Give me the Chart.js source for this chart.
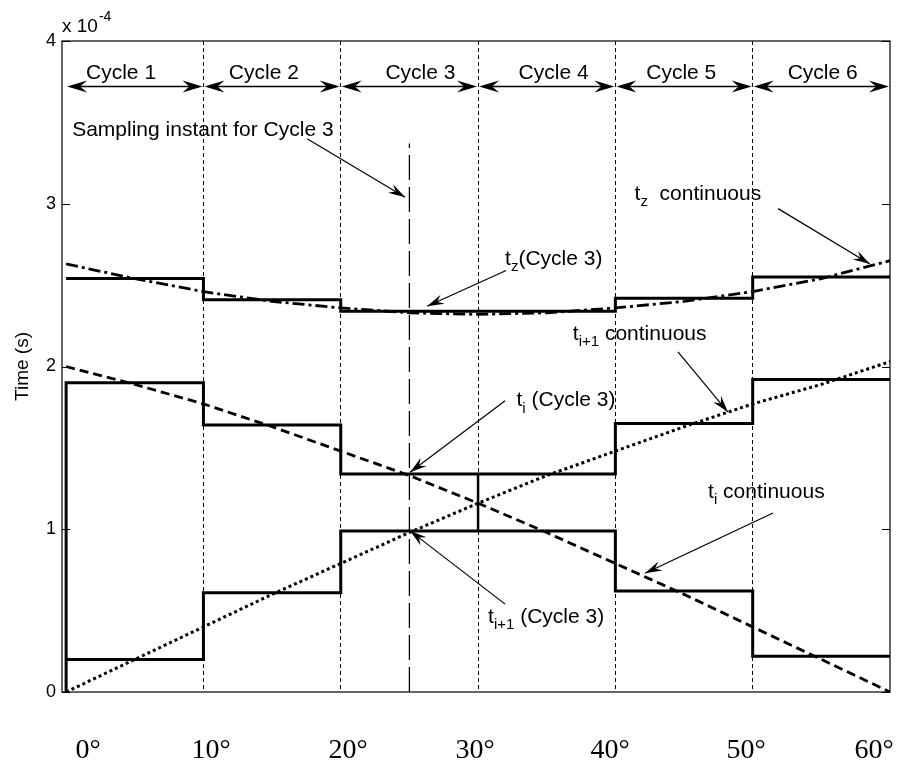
<!DOCTYPE html>
<html>
<head>
<meta charset="utf-8">
<script src="https://cdn.jsdelivr.net/npm/chart.js@4/dist/chart.umd.min.js"></script>
<style>
  html, body { margin: 0; padding: 0; background: #fff; }
  canvas { display: block; }
</style>
</head>
<body>
<canvas id="chart" width="898" height="764"></canvas>
<script>
( function () {
    'use strict';

    // angle (deg) and times (x 1e-4 s)
    var angles      = [ 0, 5, 10, 15, 20, 25, 30, 35, 40, 45, 50, 55, 60 ];
    var tzCont      = [ 2.63, 2.54, 2.46, 2.40, 2.36, 2.33, 2.32, 2.33, 2.36, 2.40, 2.46, 2.54, 2.65 ];
    var tiCont      = [ 2.00, 1.89, 1.77, 1.63, 1.48, 1.33, 1.16, 0.98, 0.79, 0.60, 0.40, 0.20, 0.00 ];
    var ti1Cont     = [ 0.00, 0.20, 0.40, 0.60, 0.79, 0.98, 1.16, 1.33, 1.48, 1.63, 1.77, 1.89, 2.03 ];

    var cycleEdges  = [ 0, 10, 20, 30, 40, 50, 60 ];
    var cycleNames  = [ 'Cycle 1', 'Cycle 2', 'Cycle 3', 'Cycle 4', 'Cycle 5', 'Cycle 6' ];
    var tzStep      = [ 2.54, 2.41, 2.34, 2.34, 2.42, 2.55 ];
    var upperStep   = [ 1.90, 1.64, 1.34, 1.34, 1.65, 1.92 ];
    var lowerStep   = [ 0.20, 0.61, 0.99, 0.99, 0.62, 0.22 ];

    var sampleAngle = 25;
    var sampleTop   = 3.37;

    var xTicks      = [ 0, 10, 20, 30, 40, 50, 60 ];
    var xTickLabels = [ '0°', '10°', '20°', '30°', '40°', '50°', '60°' ];
    var yTicks      = [ 0, 1, 2, 3, 4 ];

    // the degree labels sit a little off their grid lines in the original
    var xLabelAt    = [ 1.6, 10.55, 20.53, 29.78, 39.61, 49.52, 58.84 ];

    var SANS  = 'Arial, "Liberation Sans", Helvetica, sans-serif';
    var SERIF = '"Times New Roman", "Liberation Serif", serif';

    function pts( xs, ys ) {
        return xs.map( function ( x, i ) { return { x: x, y: ys[ i ] }; } );
    }

    function stairs( values, fromZero ) {
        var out = fromZero ? [ { x: cycleEdges[ 0 ], y: 0 } ] : [];
        values.forEach( function ( v, i ) {
            out.push( { x: cycleEdges[ i ], y: v } );
            out.push( { x: cycleEdges[ i + 1 ], y: v } );
        } );
        return out;
    }

    var base = {
        borderColor: '#000',
        pointRadius: 0,
        fill:        false,
        tension:     0,
    };

    // annotation texts (data units)
    var labels = [
        { x: 0.44,  y: 3.45, parts: [ [ 'Sampling instant for Cycle 3' ] ] },
        { x: 41.4,  y: 3.06, parts: [ [ 't' ], [ 'z', 1 ], [ '  continuous' ] ] },
        { x: 31.97, y: 2.66, parts: [ [ 't' ], [ 'z', 1 ], [ '(Cycle 3)' ] ] },
        { x: 36.9,  y: 2.20, parts: [ [ 't' ], [ 'i+1', 1 ], [ ' continuous' ] ] },
        { x: 32.8,  y: 1.79, parts: [ [ 't' ], [ 'i', 1 ], [ ' (Cycle 3)' ] ] },
        { x: 46.75, y: 1.23, parts: [ [ 't' ], [ 'i', 1 ], [ ' continuous' ] ] },
        { x: 30.73, y: 0.46, parts: [ [ 't' ], [ 'i+1', 1 ], [ ' (Cycle 3)' ] ] },
    ];

    // arrows: from -> tip (data units)
    var arrows = [
        [ 17.55, 3.40, 24.69, 3.04 ],
        [ 51.85, 2.97, 58.54, 2.63 ],
        [ 32.04, 2.59, 26.29, 2.37 ],
        [ 44.56, 2.09, 48.20, 1.72 ],
        [ 31.97, 1.79, 25.05, 1.35 ],
        [ 51.48, 1.10, 42.16, 0.73 ],
        [ 31.97, 0.54, 25.05, 0.99 ],
    ];

    var cycleLabelX = [ 4.0, 14.4, 25.8, 35.5, 44.8, 55.1 ];
    var cycleArrowY = 3.72;
    var cycleLabelY = 3.80;

    function head( ctx, fx, fy, tx, ty, len, half ) {
        var a = Math.atan2( ty - fy, tx - fx );
        var c = Math.cos( a ), s = Math.sin( a );
        var bx = tx - len * c, by = ty - len * s;
        var nx = tx - len * 0.65 * c, ny = ty - len * 0.65 * s;
        ctx.beginPath();
        ctx.moveTo( tx, ty );
        ctx.lineTo( bx - half * s, by + half * c );
        ctx.lineTo( nx, ny );
        ctx.lineTo( bx + half * s, by - half * c );
        ctx.closePath();
        ctx.fill();
    }

    function richText( ctx, x, y, parts ) {
        parts.forEach( function ( p ) {
            var sub = p[ 1 ];
            ctx.font = ( sub ? 15 : 21 ) + 'px ' + SANS;
            ctx.fillText( p[ 0 ], x, sub ? y + 8 : y );
            x += ctx.measureText( p[ 0 ] ).width;
        } );
    }

    var decor = {
        id: 'decor',
        beforeDraw: function ( chart ) {
            var ctx = chart.ctx;
            ctx.save();
            ctx.fillStyle = '#fff';
            ctx.fillRect( 0, 0, chart.width, chart.height );
            ctx.restore();
        },
        afterDraw: function ( chart ) {
            var ctx = chart.ctx, a = chart.chartArea;
            var xs = chart.scales.x, ys = chart.scales.y;
            var px = function ( v ) { return xs.getPixelForValue( v ); };
            var py = function ( v ) { return ys.getPixelForValue( v ); };

            ctx.save();
            ctx.strokeStyle = '#000';
            ctx.fillStyle = '#000';

            // box + inward ticks
            ctx.lineWidth = 1.2;
            ctx.strokeRect( a.left, a.top, a.right - a.left, a.bottom - a.top );
            ctx.lineWidth = 1;
            yTicks.forEach( function ( v ) {
                var y = Math.round( py( v ) ) + 0.5;
                ctx.beginPath();
                ctx.moveTo( a.left, y );  ctx.lineTo( a.left + 8, y );
                ctx.moveTo( a.right, y ); ctx.lineTo( a.right - 8, y );
                ctx.stroke();
            } );

            // exponent
            ctx.textBaseline = 'alphabetic';
            ctx.textAlign = 'left';
            ctx.font = '19px ' + SANS;
            ctx.fillText( 'x 10', a.left, 32 );
            var w = ctx.measureText( 'x 10' ).width;
            ctx.font = '14px ' + SANS;
            ctx.fillText( '-4', a.left + w + 1, 21 );

            // degree labels under the axis
            ctx.font = '28px ' + SERIF;
            ctx.textAlign = 'center';
            ctx.textBaseline = 'middle';
            xTickLabels.forEach( function ( t, i ) {
                ctx.fillText( t, px( xLabelAt[ i ] ), a.bottom + 59 );
            } );

            // cycle arrows
            ctx.lineWidth = 1.5;
            for ( var i = 0; i < cycleNames.length; i++ ) {
                var x1 = px( cycleEdges[ i ] ) + 1, x2 = px( cycleEdges[ i + 1 ] ) - 1, y = py( cycleArrowY );
                ctx.beginPath();
                ctx.moveTo( x1 + 10, y ); ctx.lineTo( x2 - 10, y );
                ctx.stroke();
                head( ctx, x2, y, x1, y, 20, 6 );
                head( ctx, x1, y, x2, y, 20, 6 );
                ctx.font = '21px ' + SANS;
                ctx.textAlign = 'center';
                ctx.textBaseline = 'middle';
                ctx.fillText( cycleNames[ i ], px( cycleLabelX[ i ] ), py( cycleLabelY ) );
            }

            // annotation arrows
            ctx.lineWidth = 1.2;
            arrows.forEach( function ( r ) {
                var fx = px( r[ 0 ] ), fy = py( r[ 1 ] ), tx = px( r[ 2 ] ), ty = py( r[ 3 ] );
                ctx.beginPath();
                ctx.moveTo( fx, fy ); ctx.lineTo( tx, ty );
                ctx.stroke();
                head( ctx, fx, fy, tx, ty, 17, 5 );
            } );

            // annotation text
            ctx.textAlign = 'left';
            ctx.textBaseline = 'middle';
            labels.forEach( function ( l ) {
                richText( ctx, px( l.x ), py( l.y ), l.parts );
            } );

            ctx.restore();
        },
    };

    new Chart( document.getElementById( 'chart' ), {
        type: 'line',
        data: {
            datasets: [
                { ...base, data: pts( angles, tzCont ),  borderWidth: 2.8, borderDash: [ 12, 4, 3, 4 ] },
                { ...base, data: pts( angles, tiCont ),  borderWidth: 2.8, borderDash: [ 9, 5 ] },
                { ...base, data: pts( angles, ti1Cont ), borderWidth: 3,   borderDash: [ 3, 3 ] },
                { ...base, data: stairs( tzStep, false ),    borderWidth: 3 },
                { ...base, data: stairs( upperStep, true ),  borderWidth: 3 },
                { ...base, data: stairs( lowerStep, false ), borderWidth: 3 },
                { ...base, data: [ { x: cycleEdges[ 3 ], y: lowerStep[ 2 ] }, { x: cycleEdges[ 3 ], y: upperStep[ 2 ] } ], borderWidth: 2.5 },
                { ...base, data: [ { x: sampleAngle, y: 0 }, { x: sampleAngle, y: sampleTop } ], borderWidth: 1.3, borderDash: [ 25, 7 ] },
            ],
        },
        options: {
            responsive: false,
            animation:  false,
            layout: { padding: { left: 0, right: 8, top: 41, bottom: 0 } },
            plugins: {
                legend:  { display: false },
                tooltip: { enabled: false },
            },
            scales: {
                x: {
                    type: 'linear',
                    min:  -0.3,
                    max:  60,
                    afterFit: function ( s ) {
                        s.height = 72;
                        s.paddingLeft = 0;
                        s.paddingRight = 0;
                    },
                    afterBuildTicks: function ( s ) { s.ticks = xTicks.map( function ( v ) { return { value: v }; } ); },
                    ticks: { display: false },
                    grid: {
                        drawTicks: false,
                        lineWidth: 1,
                        color: function ( c ) {
                            var v = c.tick ? c.tick.value : 0;
                            return v > 0 && v < 60 ? '#000' : 'rgba(0,0,0,0)';
                        },
                    },
                    border: { display: false, dash: [ 4, 3 ] },
                },
                y: {
                    min: 0,
                    max: 4,
                    afterFit: function ( s ) {
                        s.width = 62;
                        s.paddingTop = 0;
                        s.paddingBottom = 0;
                    },
                    afterBuildTicks: function ( s ) { s.ticks = yTicks.map( function ( v ) { return { value: v }; } ); },
                    ticks: {
                        font:    { family: SANS, size: 18 },
                        color:   '#000',
                        padding: 6,
                    },
                    grid:   { display: false, drawTicks: false },
                    border: { display: false },
                    title: {
                        display: true,
                        text:    'Time (s)',
                        color:   '#000',
                        font:    { family: SANS, size: 19 },
                        padding: { top: 11, bottom: 0 },
                    },
                },
            },
        },
        plugins: [ decor ],
    } );
} )();
</script>
</body>
</html>
